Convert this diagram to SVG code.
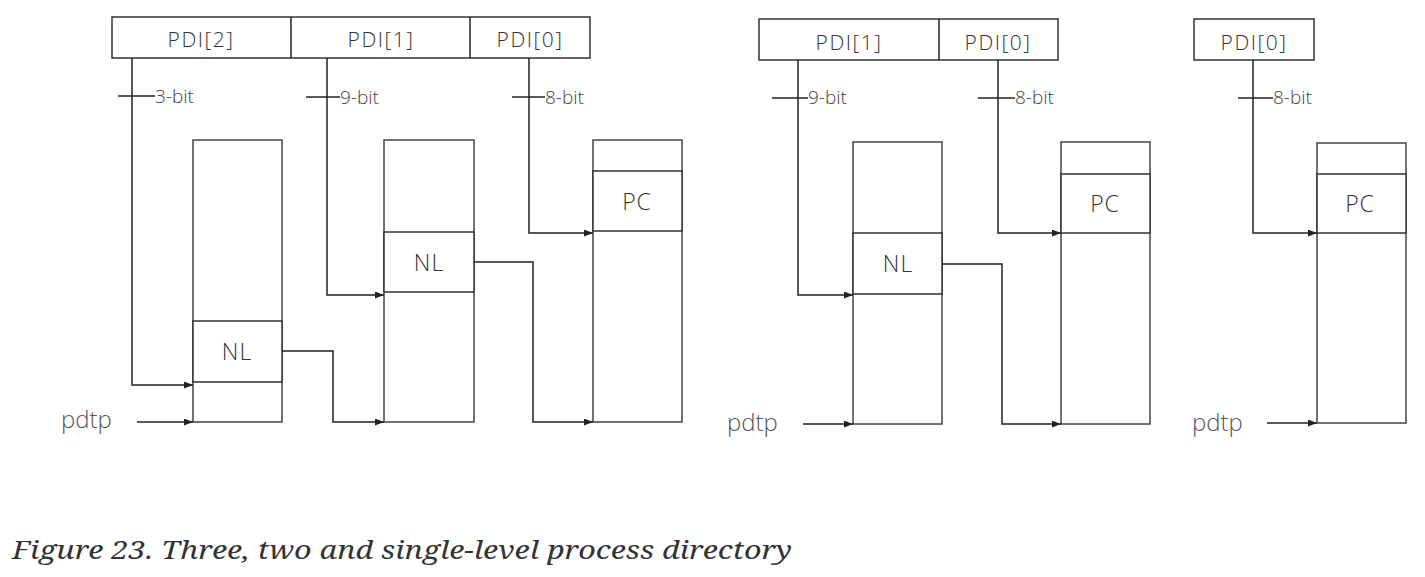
<svg xmlns="http://www.w3.org/2000/svg" width="1425" height="577" viewBox="0 0 1425 577">
<style>
.bx{fill:#fff;stroke:#333;stroke-width:1.5}
.col{fill:none;stroke:#444;stroke-width:1.5}
.ln{fill:none;stroke:#222;stroke-width:1.5}
.t{font-family:"Open Sans","Liberation Sans",sans-serif;font-weight:300;fill:#333;text-anchor:middle}
.pdi{font-size:21px;letter-spacing:1.5px}
.bit{font-family:"Open Sans","Liberation Sans",sans-serif;font-weight:300;fill:#444;font-size:19px}
.lab{font-size:23px;letter-spacing:1px}
.pd{font-family:"Open Sans","Liberation Sans",sans-serif;font-weight:300;fill:#555;font-size:24px}
.cap{font-family:"Noto Serif","DejaVu Serif","Liberation Serif",serif;font-style:italic;font-size:26px;fill:#333}
</style>
<defs>
<marker id="ah" markerUnits="userSpaceOnUse" markerWidth="9" markerHeight="7" refX="9" refY="3.5" orient="auto">
<path d="M0,0 L9,3.5 L0,7 z" fill="#222"/>
</marker>
</defs>
<rect width="1425" height="577" fill="#fff"/>

<g id="three-level">
<g id="pdi3">
<rect class="bx" x="112" y="17" width="478" height="41"/>
<line class="ln" x1="291" y1="17" x2="291" y2="58"/>
<line class="ln" x1="470" y1="17" x2="470" y2="58"/>
<text class="t pdi" x="201" y="47">PDI[2]</text>
<text class="t pdi" x="381" y="47">PDI[1]</text>
<text class="t pdi" x="530" y="47">PDI[0]</text>
</g>
<g id="tbl3a">
<rect class="col" x="193" y="140" width="89" height="282"/>
<rect class="bx" x="193" y="321" width="89" height="61"/>
<text class="t lab" x="237" y="360">NL</text>
</g>
<g id="tbl3b">
<rect class="col" x="384" y="140" width="90" height="282"/>
<rect class="bx" x="384" y="232" width="90" height="60"/>
<text class="t lab" x="429" y="271">NL</text>
</g>
<g id="tbl3c">
<rect class="col" x="593" y="140" width="89" height="282"/>
<rect class="bx" x="593" y="171" width="89" height="60"/>
<text class="t lab" x="637" y="210">PC</text>
</g>
<text class="pd" x="61" y="428">pdtp</text>
<text class="bit" x="155" y="103">3-bit</text>
<text class="bit" x="340" y="104">9-bit</text>
<text class="bit" x="545" y="104">8-bit</text>
</g>

<g id="two-level">
<g id="pdi2">
<rect class="bx" x="759" y="19" width="299" height="41"/>
<line class="ln" x1="939" y1="19" x2="939" y2="60"/>
<text class="t pdi" x="849" y="50">PDI[1]</text>
<text class="t pdi" x="998" y="50">PDI[0]</text>
</g>
<g id="tbl2a">
<rect class="col" x="853" y="142" width="89" height="282"/>
<rect class="bx" x="853" y="233" width="89" height="61"/>
<text class="t lab" x="898" y="272">NL</text>
</g>
<g id="tbl2b">
<rect class="col" x="1061" y="142" width="89" height="282"/>
<rect class="bx" x="1061" y="174" width="89" height="59"/>
<text class="t lab" x="1105" y="212">PC</text>
</g>
<text class="pd" x="727" y="431">pdtp</text>
<text class="bit" x="808" y="104">9-bit</text>
<text class="bit" x="1015" y="104">8-bit</text>
</g>

<g id="single-level">
<g id="pdi1">
<rect class="bx" x="1194" y="19" width="120" height="41"/>
<text class="t pdi" x="1254" y="50">PDI[0]</text>
</g>
<g id="tbl1a">
<rect class="col" x="1317" y="143" width="89" height="280"/>
<rect class="bx" x="1317" y="174" width="89" height="59"/>
<text class="t lab" x="1360" y="212">PC</text>
</g>
<text class="pd" x="1192" y="431">pdtp</text>
<text class="bit" x="1273" y="104">8-bit</text>
</g>

<g id="connectors">
<path class="ln" d="M132,58 V385 H193" marker-end="url(#ah)"/>
<path class="ln" d="M118,96 H155"/>
<path class="ln" d="M327,58 V295 H384" marker-end="url(#ah)"/>
<path class="ln" d="M306,97 H340"/>
<path class="ln" d="M529,58 V233 H593" marker-end="url(#ah)"/>
<path class="ln" d="M512,97 H545"/>
<path class="ln" d="M137,422 H193" marker-end="url(#ah)"/>
<path class="ln" d="M282,351 H333 V422 H384" marker-end="url(#ah)"/>
<path class="ln" d="M474,262 H533 V422 H593" marker-end="url(#ah)"/>

<path class="ln" d="M798,60 V295 H853" marker-end="url(#ah)"/>
<path class="ln" d="M772,98 H808"/>
<path class="ln" d="M998,60 V233 H1061" marker-end="url(#ah)"/>
<path class="ln" d="M978,98 H1015"/>
<path class="ln" d="M803,424 H853" marker-end="url(#ah)"/>
<path class="ln" d="M942,264 H1002 V424 H1061" marker-end="url(#ah)"/>

<path class="ln" d="M1253,60 V233 H1317" marker-end="url(#ah)"/>
<path class="ln" d="M1238,98 H1273"/>
<path class="ln" d="M1267,423 H1317" marker-end="url(#ah)"/>
</g>

<text class="cap" x="12" y="559" textLength="780" lengthAdjust="spacingAndGlyphs">Figure 23. Three, two and single-level process directory</text>
</svg>
